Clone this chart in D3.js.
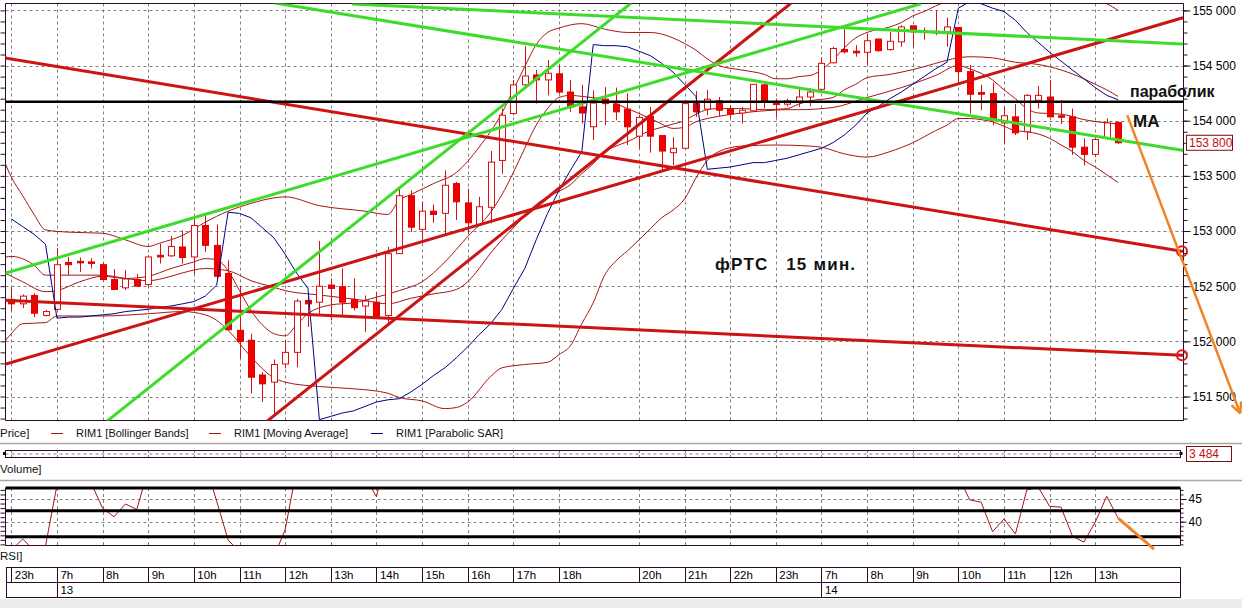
<!DOCTYPE html>
<html><head><meta charset="utf-8">
<script src="https://cdn.jsdelivr.net/npm/d3@7"></script>
<style>
body{margin:0;background:#fff}
svg{display:block}
text{font-family:"Liberation Sans",Arial,sans-serif}
</style>
</head><body>
<svg id="c" width="1242" height="608"></svg>
<script>
// ---------------- DATA ----------------
const open  = [152380,152340,152415,152235,152290,152715,152725,152720,152695,152560,152485,152560,152515,152780,152775,152855,152765,153050,152870,152615,152100,152010,151695,151630,151795,151900,152370,152355,152510,152495,152380,152320,152355,152235,152795,153320,153015,153180,153160,153430,153255,153060,153215,153640,154065,154325,154415,154370,154425,154260,154125,153945,154195,154150,154105,153860,154040,153865,153710,153750,154155,154105,154180,154105,154070,154090,154325,154160,154150,154170,154215,154285,154525,154645,154630,154620,154740,154645,154715,154860,154815,154810,154805,154845,154445,154255,154245,153980,154035,153900,154185,154215,154045,154035,153760,153695,153840,153985];
const high  = [152490,152425,152435,152285,152845,152765,152760,152755,152710,152655,152645,152610,152780,152885,152955,153005,153115,153165,153060,152735,152500,152070,151720,151835,152010,152385,152435,152910,152570,152660,152570,152415,152445,152855,153385,153370,153265,153240,153550,153445,153385,153310,153725,154110,154370,154675,154460,154550,154505,154370,154325,154275,154305,154300,154250,154050,154125,153865,153850,154170,154270,154280,154215,154140,154125,154330,154330,154200,154200,154300,154295,154575,154670,154830,154685,154790,154745,154805,154865,154860,154845,155000,154935,154850,154505,154325,154345,154130,154150,154240,154315,154370,154185,154110,153840,153870,154020,153990];
const low   = [152275,152300,152220,152225,152280,152600,152630,152660,152555,152465,152465,152495,152500,152705,152765,152705,152610,152810,152570,152100,151845,151530,151450,151330,151755,151765,152130,152250,152190,152235,152280,152085,152205,152160,152795,152990,152930,153075,152975,153100,152975,153050,153070,153520,154050,154295,154155,154230,154245,154080,153975,153825,153960,154005,153780,153750,153710,153550,153595,153750,154035,154050,154040,154020,153975,154080,154110,154030,154130,154125,154130,154260,154520,154610,154580,154505,154625,154635,154670,154670,154735,154775,154670,154340,154065,154095,153960,153795,153870,153825,154110,154030,153970,153690,153595,153670,153830,153790];
const close = [152340,152410,152255,152270,152695,152695,152715,152710,152560,152470,152565,152500,152765,152765,152860,152760,153050,152870,152590,152105,152000,151675,151615,151790,151900,152365,152340,152500,152480,152355,152305,152365,152210,152795,153320,153035,153180,153150,153415,153265,153075,153220,153625,154050,154325,154405,154370,154430,154260,154125,154070,154160,154155,154080,153945,154030,153860,153725,153750,154155,154080,154195,154095,154060,154095,154330,154180,154150,154180,154215,154260,154520,154655,154625,154615,154725,154635,154720,154850,154805,154805,154805,154850,154445,154240,154240,154005,154045,153890,154230,154230,154035,154035,153760,153695,153830,153980,153800];

const sar = [153110,153040,152970,152880,152210,152220,152220,152230,152240,152250,152270,152280,152290,152310,152320,152340,152360,152410,152510,153170,153160,153120,153030,152940,152790,152620,152480,151290,151320,151350,151370,151410,151450,151470,151480,151540,151610,151690,151760,151850,151950,152060,152160,152290,152480,152660,152920,153160,153370,153550,153720,154690,154680,154680,154670,154630,154590,154520,154440,154330,154220,153560,153570,153580,153600,153620,153620,153640,153660,153690,153720,153750,153800,153870,153960,154070,154130,154200,154260,154330,154400,154470,154530,155020,155080,155060,155020,154990,154910,154800,154710,154620,154540,154460,154380,154300,154230,154190];

const bbUpperIdx = [-1,0,1,2,3,5,8,10,12,13,15,17,19,21,23,24,27,31,33,34,35,37,39,41,43,44,45,46,47,48,50,52,54,56,58,59,60,61,62,64,66,67,68,69,70,71,72,73,74,75,77,78,79,80,81,82,83,84,86,88,90,92,94,95,96,97];
const bbUpperVal = [153730,153490,153320,153150,153010,152990,152980,152920,152860,152890,152960,153080,153180,153250,153300,153310,153230,153180,153150,153280,153330,153430,153530,153760,154070,154280,154490,154690,154800,154840,154880,154830,154800,154800,154750,154700,154640,154560,154500,154460,154420,154380,154380,154400,154410,154460,154550,154660,154750,154800,154850,154890,154950,154990,155040,155080,155110,155130,155150,155150,155150,155130,155100,155090,155060,155000];
const bbLowerIdx = [-1,0,1,3,4,8,12,15,17,18,19,21,23,24,27,30,33,34,36,38,39,40,42,43,45,47,48,49,50,51,52,53,54,56,57,58,59,60,61,62,64,67,70,71,73,75,77,79,81,82,83,84,85,86,87,88,89,90,91,92,93,94,95,96,97];
const bbLowerVal = [151940,152070,152160,152170,152230,152230,152250,152270,152240,152190,152100,151860,151670,151630,151590,151570,151530,151490,151460,151390,151400,151450,151680,151760,151790,151810,151880,151960,152160,152350,152600,152730,152820,153020,153120,153190,153290,153480,153640,153720,153770,153780,153770,153760,153700,153670,153720,153800,153910,153960,154020,154020,154010,153990,153950,153910,153900,153880,153840,153780,153720,153640,153580,153510,153440];
const bbMidIdx = [-1,0,2,3,5,8,10,12,14,15,17,19,21,23,24,27,31,33,35,37,39,40,41,42,43,44,45,46,47,48,49,50,51,52,53,54,56,57,58,59,60,61,62,64,66,68,69,70,72,73,74,75,77,78,80,81,83,84,86,88,90,92,94,95,96,97];
const bbMidVal = [152750,152770,152690,152600,152600,152600,152570,152550,152590,152620,152660,152640,152550,152490,152460,152420,152370,152340,152390,152430,152470,152540,152660,152800,152920,153030,153140,153240,153310,153360,153420,153520,153610,153720,153770,153810,153910,153940,153970,154000,154060,154100,154110,154110,154100,154110,154150,154180,154210,154280,154330,154390,154420,154440,154490,154520,154570,154580,154570,154530,154510,154460,154380,154330,154280,154220];
const maIdx = [-1,0,1,3,4,6,8,10,12,14,16,17,18,19,20,21,22,23,24,25,26,28,30,32,34,36,38,40,42,43,44,45,46,47,48,49,50,52,54,56,57,58,59,60,62,64,66,68,69,72,75,78,81,83,84,86,87,88,89,90,92,94,97];
const maVal = [152640,152590,152540,152450,152460,152540,152590,152570,152590,152660,152720,152750,152740,152640,152460,152280,152150,152070,152050,152150,152250,152330,152350,152400,152460,152540,152720,152950,153170,153330,153530,153750,153960,154110,154210,154230,154220,154190,154110,154020,153970,153930,153940,153990,154040,154070,154090,154100,154100,154120,154210,154300,154410,154500,154470,154370,154280,154200,154110,154070,154060,154010,153970];

const rsi = [33.7,36.2,33.7,34.7,48,52,52,48.5,43,41.1,43.9,42.7,51.5,52,55,52,58,53,44.5,36,33.3,25,24,32.3,38.2,51.5,50,54,52,49,48,50,45.5,56,64,58,60,59,63,60,56,59,65,72,76,77,75,76,70,65,63,65,64,62,58,60,56,53,54,61,59,61,59,58,59,63,60,59,60,61,62,67,70,69,69,71,69,70,72,70,70,70,71,50,44.8,44.3,37.8,40.6,37.3,47.0,47.6,43.4,43.2,36.8,35.5,39.9,45.6,40.8];
const rsiLevels = [47.4,42.4,36.7];
const rsiTicks = [40,45];

const priceTicks = [151500,152000,152500,153000,153500,154000,154500,155000];
const hourStart  = [0,4,8,12,16,20,24,28,32,36,40,44,48,55,59,63,67,71,75,79,83,87,91,95];
const hourLabels = ["23h","7h","8h","9h","10h","11h","12h","13h","14h","15h","16h","17h","18h","20h","21h","22h","23h","7h","8h","9h","10h","11h","12h","13h"];
const dateStart  = [4,71];
const dateLabels = ["13","14"];

// trend lines: [barFrom, priceFrom, barTo, priceTo]
const greenLines = [[23.11,155067,102.6,153733],[29.95,155058,102.6,154695],[-0.55,152617,79.64,155058],[8.47,151283,54.22,155058]];
const redLines   = [[-0.55,154568,102.6,152817],[-0.55,152372,102.6,151873],[-0.55,151791,102.6,154931],[22.5,151283,68.25,155058]];
const blackLine  = [-0.55,154171,102.6,154171];
const circleLines = [0,1];
const forecastArrow = [97.8,154051,107.7,151347];
const rsiForecast = [97,40.8,100.15,33.96];
const lastPrice = 153800;
const lastVolume = "3 484";
const legendItems = ["RIM1 [Bollinger Bands]","RIM1 [Moving Average]","RIM1 [Parabolic SAR]"];

// ---------------- DRAW ----------------
const W=1242,H=608;
const svg=d3.select("#c");
svg.append("rect").attr("width",W).attr("height",H).attr("fill","#fff");
const PL=5.5, PR=1183.5, PT=3.5, PB=420.5;
const frameCol="#2b0b2b";
const UI=11.5;
const x=d3.scaleLinear().domain([0,97]).range([11.3,1118.1]);
const y=d3.scaleLinear().domain([151500,155000]).range([396.5,10.4]);
const fmt=d=>d3.format(",")(d).replace(/,/g," ");
const defs=svg.append("defs");
defs.append("clipPath").attr("id","mainClip").append("rect").attr("x",PL).attr("y",PT).attr("width",PR-PL).attr("height",PB-PT);
const px=v=>Math.round(v)+0.5;

// grid main
const gg=svg.append("g").attr("stroke","#808080").attr("stroke-dasharray","3,3").attr("stroke-width",1);
hourStart.forEach(i=>gg.append("line").attr("x1",px(x(i))).attr("x2",px(x(i))).attr("y1",PT).attr("y2",PB));
priceTicks.forEach(p=>gg.append("line").attr("x1",PL).attr("x2",PR).attr("y1",px(y(p))).attr("y2",px(y(p))));

// frame
[[PL,PR,PT,PT],[PL,PR,PB,PB],[PL,PL,PT,PB],[PR,PR,PT,PB]].forEach(a=>svg.append("line").attr("x1",a[0]).attr("x2",a[1]).attr("y1",a[2]).attr("y2",a[3]).attr("stroke",frameCol));

// axes
const minor=d3.range(151300,155001,100);
const axR=svg.append("g").attr("transform",`translate(${PR},0)`).call(d3.axisRight(y).tickValues(minor).tickSize(4).tickFormat(""));
axR.select(".domain").remove(); axR.selectAll("line").attr("stroke",frameCol);
const axR2=svg.append("g").attr("transform",`translate(${PR},0)`).call(d3.axisRight(y).tickValues(priceTicks).tickSize(7).tickPadding(2).tickFormat(fmt));
axR2.select(".domain").remove(); axR2.selectAll("line").attr("stroke",frameCol);
axR2.selectAll("text").attr("font-size",12).attr("fill","#000").attr("font-family","Liberation Sans, Arial");
const axL=svg.append("g").attr("transform",`translate(${PL},0)`).call(d3.axisLeft(y).tickValues(minor).tickSize(5).tickFormat(""));
axL.select(".domain").remove(); axL.selectAll("line").attr("stroke",frameCol);

const main=svg.append("g").attr("clip-path","url(#mainClip)");
const ln=d3.line().x(d=>x(d[0])).y(d=>y(d[1])).curve(d3.curveMonotoneX);
const thin="#a51515";
[[bbUpperIdx,bbUpperVal],[bbLowerIdx,bbLowerVal],[bbMidIdx,bbMidVal],[maIdx,maVal]].forEach(([ix,vv])=>{
  main.append("path").attr("d",ln(ix.map((i,k)=>[i,vv[k]]))).attr("fill","none").attr("stroke",thin).attr("stroke-width",1);
});

// candles
const cw=3;
open.forEach((o,i)=>{
  const c=close[i], cx=Math.round(x(i))+0.5;
  main.append("line").attr("x1",cx).attr("x2",cx).attr("y1",y(high[i])).attr("y2",y(low[i])).attr("stroke","#d81010").attr("stroke-width",1);
  const t=y(Math.max(o,c)), b=y(Math.min(o,c));
  const hgt=Math.max(1.5,b-t);
  if(c<o){
    main.append("rect").attr("x",cx-cw).attr("y",t).attr("width",cw*2).attr("height",hgt).attr("fill","#f00000").attr("stroke","#e00000").attr("stroke-width",1);
  } else {
    main.append("rect").attr("x",cx-cw).attr("y",t).attr("width",cw*2).attr("height",hgt).attr("fill","#fff").attr("stroke","#d81010").attr("stroke-width",1);
  }
});

// SAR
const lnL=d3.line().x((d,i)=>x(i)).y(d=>y(d));
main.append("path").attr("d",lnL(sar)).attr("fill","none").attr("stroke","#000080").attr("stroke-width",1);

// trend lines
const seg=(g,a,col,w)=>g.append("line").attr("x1",x(a[0])).attr("y1",y(a[1])).attr("x2",x(a[2])).attr("y2",y(a[3])).attr("stroke",col).attr("stroke-width",w).attr("stroke-linecap","round");
redLines.forEach(a=>seg(main,a,"#cc1414",3));
greenLines.forEach(a=>seg(main,a,"#3ddc2a",3));
seg(main,blackLine,"#000",2.5);

// circles at line ends
circleLines.forEach(k=>{
  const a=redLines[k];
  svg.append("circle").attr("cx",x(a[2])).attr("cy",y(a[3])).attr("r",5).attr("fill","none").attr("stroke","#e01818").attr("stroke-width",2);
});

// last price label
svg.append("rect").attr("x",1186.5).attr("y",y(lastPrice)-7.5).attr("width",46).attr("height",15).attr("fill","#fff").attr("stroke","#7a1010");
svg.append("text").attr("x",1189).attr("y",y(lastPrice)+4.5).attr("font-size",12).attr("fill","#c01010").text(fmt(lastPrice));

// annotations
svg.append("text").attr("x",1130).attr("y",97).attr("font-size",16).attr("font-weight","bold").attr("fill","#111").text("параболик");
svg.append("text").attr("x",1133).attr("y",127).attr("font-size",17).attr("font-weight","bold").attr("fill","#111").text("МА");
svg.append("text").attr("x",715).attr("y",270).attr("font-size",17).attr("font-weight","bold").attr("letter-spacing",1.2).attr("fill","#111").style("white-space","pre").text("фРТС   15 мин.");

// forecast arrow
const fa=forecastArrow;
const ax1=x(fa[0]),ay1=y(fa[1]),ax2=x(fa[2]),ay2=y(fa[3]);
svg.append("line").attr("x1",ax1).attr("y1",ay1).attr("x2",ax2).attr("y2",ay2).attr("stroke","#f08424").attr("stroke-width",2.5);
const ang=Math.atan2(ay2-ay1,ax2-ax1);
[0.45,-0.45].forEach(d=>{
  svg.append("line").attr("x1",ax2).attr("y1",ay2).attr("x2",ax2-12*Math.cos(ang+d)).attr("y2",ay2-12*Math.sin(ang+d)).attr("stroke","#f08424").attr("stroke-width",2.5);
});

// legend row
svg.append("text").attr("x",0).attr("y",437).attr("font-size",UI).attr("fill","#111").text("Price]");
const legX=[51,209,371], legC=[thin,thin,"#000080"];
legendItems.forEach((t,k)=>{
  svg.append("line").attr("x1",legX[k]).attr("x2",legX[k]+12).attr("y1",433.5).attr("y2",433.5).attr("stroke",legC[k]);
  svg.append("text").attr("x",legX[k]+25).attr("y",437).attr("font-size",11).attr("fill","#111").text(t);
});
svg.append("line").attr("x1",0).attr("x2",W).attr("y1",443.5).attr("y2",443.5).attr("stroke","#a8a8a8").attr("stroke-width",1.5);
svg.append("line").attr("x1",0).attr("x2",W).attr("y1",480.5).attr("y2",480.5).attr("stroke","#a8a8a8").attr("stroke-width",1.5);

// volume strip
const VR=1180.5;
svg.append("rect").attr("x",PL).attr("y",450.5).attr("width",VR-PL).attr("height",7).attr("fill","#fff").attr("stroke",frameCol);
svg.append("line").attr("x1",PL).attr("x2",VR).attr("y1",454).attr("y2",454).attr("stroke","#808080").attr("stroke-dasharray","3,3");
hourStart.forEach(i=>svg.append("line").attr("x1",px(x(i))).attr("x2",px(x(i))).attr("y1",451).attr("y2",457).attr("stroke","#808080").attr("stroke-dasharray","2,2"));
svg.append("rect").attr("x",3).attr("y",452).attr("width",3).attr("height",3).attr("fill","#000");
svg.append("rect").attr("x",VR-1).attr("y",452).attr("width",3).attr("height",3).attr("fill","#000");
svg.append("rect").attr("x",1186.5).attr("y",446.5).attr("width",45).attr("height",15).attr("fill","#fff").attr("stroke","#7a1010");
svg.append("text").attr("x",1189).attr("y",458).attr("font-size",12).attr("fill","#c01010").text(lastVolume);
svg.append("text").attr("x",0).attr("y",473).attr("font-size",UI).attr("fill","#111").text("Volume]");

// RSI panel
const yR=d3.scaleLinear().domain([40,45]).range([521.7,499]);
const RT=488, RB=545.5;
defs.append("clipPath").attr("id","rsiClip").append("rect").attr("x",PL).attr("y",RT).attr("width",VR-PL).attr("height",RB-RT);
const rg=svg.append("g").attr("stroke","#808080").attr("stroke-dasharray","3,3");
hourStart.forEach(i=>rg.append("line").attr("x1",px(x(i))).attr("x2",px(x(i))).attr("y1",RT).attr("y2",RB));
rsiTicks.forEach(v=>rg.append("line").attr("x1",PL).attr("x2",VR).attr("y1",px(yR(v))).attr("y2",px(yR(v))));
[[PL,PL,RT,RB],[PL,VR,RB,RB],[VR,VR,RT,RB]].forEach(a=>svg.append("line").attr("x1",a[0]).attr("x2",a[1]).attr("y1",a[2]).attr("y2",a[3]).attr("stroke",frameCol));
const rMinor=d3.range(35,48,1);
const aR=svg.append("g").attr("transform",`translate(${VR},0)`).call(d3.axisRight(yR).tickValues(rMinor).tickSize(3).tickFormat(""));
aR.select(".domain").remove(); aR.selectAll("line").attr("stroke",frameCol);
const aR2=svg.append("g").attr("transform",`translate(${VR},0)`).call(d3.axisRight(yR).tickValues(rsiTicks).tickSize(6).tickPadding(2).tickFormat(d3.format("d")));
aR2.select(".domain").remove(); aR2.selectAll("line").attr("stroke",frameCol);
aR2.selectAll("text").attr("font-size",12).attr("fill","#000").attr("font-family","Liberation Sans, Arial");
const aL=svg.append("g").attr("transform",`translate(${PL},0)`).call(d3.axisLeft(yR).tickValues(rMinor).tickSize(5).tickFormat(""));
aL.select(".domain").remove(); aL.selectAll("line").attr("stroke",frameCol);
const rsiG=svg.append("g").attr("clip-path","url(#rsiClip)");
rsiG.append("path").attr("d",d3.line().x((d,i)=>x(i)).y(d=>yR(d))(rsi)).attr("fill","none").attr("stroke","#a51515").attr("stroke-width",1);
rsiLevels.forEach(v=>svg.append("line").attr("x1",PL).attr("x2",VR).attr("y1",yR(v)).attr("y2",yR(v)).attr("stroke","#000").attr("stroke-width",3));
svg.append("line").attr("x1",x(rsiForecast[0])).attr("y1",yR(rsiForecast[1])).attr("x2",x(rsiForecast[2])).attr("y2",yR(rsiForecast[3])).attr("stroke","#f08424").attr("stroke-width",3);
svg.append("text").attr("x",0).attr("y",560).attr("font-size",UI).attr("fill","#111").text("RSI]");

// time axis
const TT=567.5, TM=582.5, TB=597.5, TL=6.5;
svg.append("rect").attr("x",0).attr("y",599).attr("width",W).attr("height",H-599).attr("fill","#ececec");
svg.append("rect").attr("x",TL).attr("y",TT).attr("width",VR-TL).attr("height",TB-TT).attr("fill","#fff").attr("stroke",frameCol);
svg.append("line").attr("x1",TL).attr("x2",VR).attr("y1",TM).attr("y2",TM).attr("stroke",frameCol);
hourStart.forEach((i,k)=>{
  svg.append("line").attr("x1",px(x(i))).attr("x2",px(x(i))).attr("y1",TT).attr("y2",TM).attr("stroke",frameCol);
  svg.append("text").attr("x",x(i)+3.5).attr("y",579).attr("font-size",UI).attr("fill","#000").text(hourLabels[k]);
});
dateStart.forEach((i,k)=>{
  svg.append("line").attr("x1",px(x(i))).attr("x2",px(x(i))).attr("y1",TM).attr("y2",TB).attr("stroke",frameCol);
  svg.append("text").attr("x",x(i)+3.5).attr("y",594).attr("font-size",UI).attr("fill","#000").text(dateLabels[k]);
});
</script>
</body></html>
